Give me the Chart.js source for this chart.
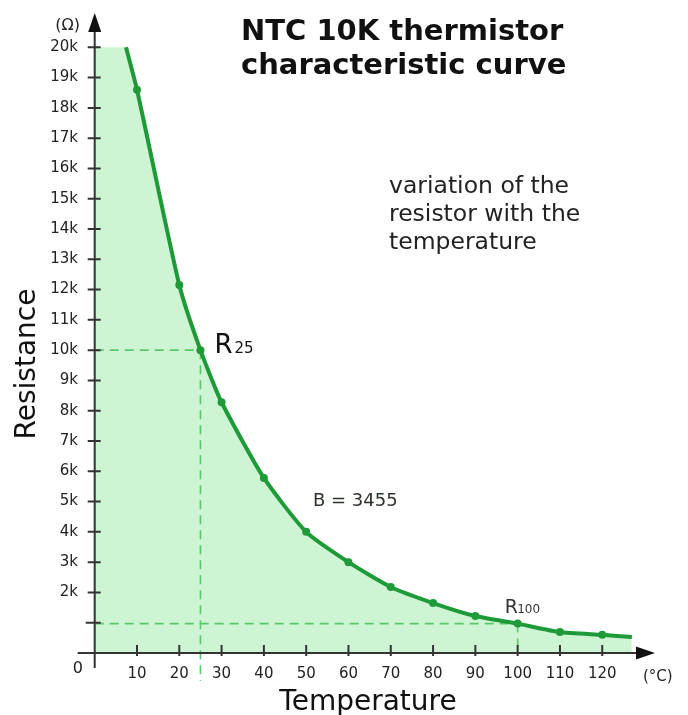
<!DOCTYPE html>
<html>
<head>
<meta charset="utf-8">
<script src="https://cdn.jsdelivr.net/npm/chart.js@4/dist/chart.umd.min.js"></script>
<style>
  html, body { margin: 0; padding: 0; background: #fff; }
  #wrap { width: 688px; height: 715px; }
</style>
</head>
<body>
<div id="wrap"><canvas id="c" width="688" height="715"></canvas></div>
<script>
// NTC 10K thermistor, resistance (ohm) against temperature (deg C)
const temperatures = [7.4, 10, 20, 25, 30, 40, 50, 60, 70, 80, 90, 100, 110, 120, 127];
const resistances  = [20000, 18600, 12150, 10000, 8280, 5780, 4000, 3000, 2180, 1650, 1220, 970, 690, 600, 530];
const markerShown  = [0, 1, 1, 1, 1, 1, 1, 1, 1, 1, 1, 1, 1, 1, 0];

const xTickValues = [10, 20, 30, 40, 50, 60, 70, 80, 90, 100, 110, 120];
const yTickValues = [1000, 2000, 3000, 4000, 5000, 6000, 7000, 8000, 9000, 10000,
                     11000, 12000, 13000, 14000, 15000, 16000, 17000, 18000, 19000, 20000];

const r25Temp = 25, r25Value = 10000;
const r100Temp = 100, r100Value = 970;
const betaText = 'B = 3455';

const LINE = '#1f9a38';
const FILL = '#cdf5d3';
const AXIS = '#333333';
const DASH = '#5cc76a';

const curve = temperatures.map((t, i) => ({ x: t, y: resistances[i] }));
// area left of the curve start, up to the top value
const topBand = [{ x: 0, y: resistances[0] }, { x: temperatures[0] + 0.6, y: resistances[0] }];

const decorations = {
  id: 'decorations',
  beforeDatasetsDraw(chart) {
    const { ctx, scales: { x, y } } = chart;
    ctx.save();
    ctx.strokeStyle = DASH;
    ctx.lineWidth = 1.6;
    ctx.setLineDash([9, 6]);
    const x0 = x.getPixelForValue(0);
    const y0 = y.getPixelForValue(0);
    // R25 guides
    const x25 = x.getPixelForValue(r25Temp), y25 = y.getPixelForValue(r25Value);
    ctx.beginPath();
    ctx.moveTo(x0, y25); ctx.lineTo(x25, y25);
    ctx.moveTo(x25, y25); ctx.lineTo(x25, y0 + 28);
    ctx.stroke();
    // R100 guides
    const x100 = x.getPixelForValue(r100Temp), y100 = y.getPixelForValue(r100Value);
    ctx.beginPath();
    ctx.moveTo(x0, y100); ctx.lineTo(x100, y100);
    ctx.moveTo(x100, y100); ctx.lineTo(x100, y0);
    ctx.stroke();
    ctx.restore();
  },
  afterDraw(chart) {
    const { ctx, scales: { x, y } } = chart;
    const x0 = x.getPixelForValue(0);
    const y0 = y.getPixelForValue(0);
    ctx.save();
    // axes
    ctx.strokeStyle = AXIS;
    ctx.fillStyle = '#111';
    ctx.lineWidth = 2;
    ctx.setLineDash([]);
    ctx.beginPath();
    ctx.moveTo(x0, y0 + 15); ctx.lineTo(x0, 28);
    ctx.moveTo(x0 - 17, y0); ctx.lineTo(640, y0);
    ctx.stroke();
    // arrow heads
    ctx.beginPath();
    ctx.moveTo(x0, 13); ctx.lineTo(x0 - 6.5, 32); ctx.lineTo(x0 + 6.5, 32); ctx.closePath();
    ctx.fill();
    ctx.beginPath();
    ctx.moveTo(655, y0); ctx.lineTo(636, y0 - 6.5); ctx.lineTo(636, y0 + 6.5); ctx.closePath();
    ctx.fill();
    // tick marks
    ctx.beginPath();
    yTickValues.forEach(v => {
      const py = y.getPixelForValue(v);
      ctx.moveTo(v === 1000 ? x0 - 9 : x0 - 7, py); ctx.lineTo(x0 + 6, py);
    });
    xTickValues.forEach(v => {
      const px = x.getPixelForValue(v);
      ctx.moveTo(px, y0 - 8); ctx.lineTo(px, y0 + 3);
    });
    ctx.stroke();

    // texts
    ctx.fillStyle = '#222';
    ctx.textBaseline = 'alphabetic';
    ctx.textAlign = 'right';
    ctx.font = '16px "DejaVu Sans"';
    ctx.fillText('0', 83, 673);
    ctx.font = '16px "DejaVu Sans"';
    ctx.fillText('(\u03A9)', 80, 30);
    ctx.textAlign = 'left';
    ctx.font = '15px "DejaVu Sans"';
    ctx.fillText('(\u00B0C)', 643, 681);

    // axis titles
    ctx.fillStyle = '#111';
    ctx.font = '28px "DejaVu Sans"';
    ctx.textAlign = 'center';
    ctx.fillText('Temperature', 368, 710);
    ctx.save();
    ctx.translate(35, 364);
    ctx.rotate(-Math.PI / 2);
    ctx.fillText('Resistance', 0, 0);
    ctx.restore();

    // title
    ctx.textAlign = 'left';
    ctx.font = 'bold 29px "DejaVu Sans"';
    ctx.fillText('NTC 10K thermistor', 241, 40);
    ctx.fillText('characteristic curve', 241, 74);

    // note
    ctx.fillStyle = '#222';
    ctx.font = '23.5px "DejaVu Sans"';
    ctx.fillText('variation of the', 389, 193);
    ctx.fillText('resistor with the', 389, 221);
    ctx.fillText('temperature', 389, 249);

    // point labels
    const px25 = x.getPixelForValue(r25Temp), py25 = y.getPixelForValue(r25Value);
    ctx.fillStyle = '#111';
    ctx.font = '26px "DejaVu Sans"';
    ctx.fillText('R', px25 + 14, py25 + 3);
    ctx.font = '15px "DejaVu Sans"';
    ctx.fillText('25', px25 + 34, py25 + 3);

    const px100 = x.getPixelForValue(r100Temp), py100 = y.getPixelForValue(r100Value);
    ctx.fillStyle = '#333';
    ctx.font = '19px "DejaVu Sans"';
    ctx.fillText('R', px100 - 13, py100 - 11);
    ctx.font = '12px "DejaVu Sans"';
    ctx.fillText('100', px100 - 0.5, py100 - 11);

    ctx.fillStyle = '#2b332b';
    ctx.font = '18px "DejaVu Sans"';
    ctx.fillText(betaText, 313, 506);
    ctx.restore();
  }
};

new Chart(document.getElementById('c'), {
  type: 'scatter',
  data: {
    datasets: [
      {
        data: curve,
        showLine: true,
        borderColor: LINE,
        borderWidth: 4,
        backgroundColor: FILL,
        fill: 'origin',
        tension: 0.2,
        pointRadius: markerShown.map(m => m ? 4 : 0),
        pointBackgroundColor: LINE,
        pointBorderColor: LINE,
        pointBorderWidth: 0,
        clip: false
      },
      {
        data: topBand,
        showLine: true,
        borderWidth: 0,
        borderColor: 'rgba(0,0,0,0)',
        backgroundColor: FILL,
        fill: 'origin',
        pointRadius: 0
      }
    ]
  },
  options: {
    responsive: false,
    animation: false,
    devicePixelRatio: 1,
    layout: { padding: { top: 14, right: 35, left: 0, bottom: 0 } },
    plugins: {
      legend: { display: false },
      tooltip: { enabled: false },
      filler: { drawTime: 'beforeDatasetsDraw' }
    },
    scales: {
      x: {
        type: 'linear',
        min: -3.95,
        max: 132,
        grid: { display: false, drawTicks: false },
        border: { display: false },
        afterBuildTicks: s => { s.ticks = xTickValues.map(v => ({ value: v })); },
        afterFit: s => { s.height = 62; },
        ticks: {
          padding: 12,
          color: '#222',
          maxRotation: 0,
          autoSkip: false,
          font: { family: 'DejaVu Sans', size: 15 },
          callback: v => String(v)
        }
      },
      y: {
        type: 'linear',
        min: 0,
        max: 21100,
        grid: { display: false, drawTicks: false },
        border: { display: false },
        afterBuildTicks: s => { s.ticks = yTickValues.map(v => ({ value: v })); },
        afterFit: s => { s.width = 78; },
        ticks: {
          padding: 0,
          color: '#222',
          autoSkip: false,
          font: { family: 'DejaVu Sans', size: 15 },
          callback: v => (v >= 2000 ? (v / 1000) + 'k' : '')
        }
      }
    }
  },
  plugins: [decorations]
});
</script>
</body>
</html>
